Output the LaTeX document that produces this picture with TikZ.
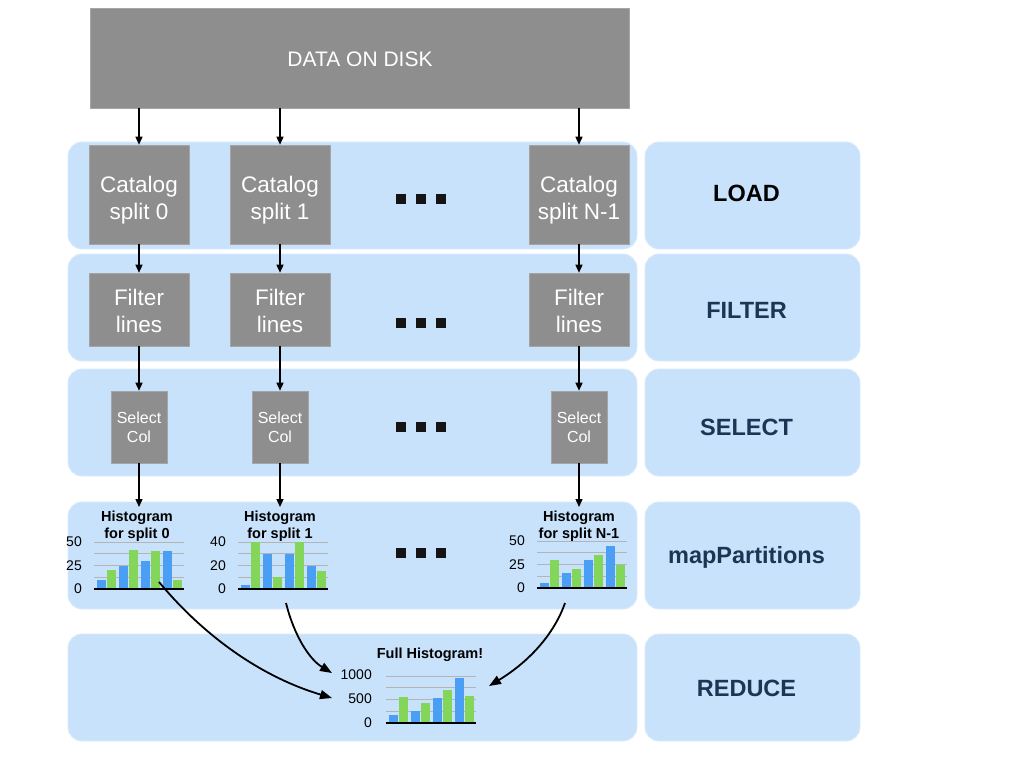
\documentclass[tikz,border=0pt]{standalone}
\usepackage{fontspec}
\setmainfont{Liberation Sans}
\usetikzlibrary{arrows.meta}
\definecolor{panelblue}{HTML}{C8E2FB}
\definecolor{boxgray}{HTML}{8E8E8E}
\definecolor{barblue}{HTML}{4A9FF5}
\definecolor{bargreen}{HTML}{84D65A}
\definecolor{gridgray}{HTML}{B4B4B4}
\definecolor{navy}{HTML}{1B3553}
% #1 chart left x, #2 baseline y, #3 px per unit, #4 list of blue/green values
\newcommand\drawhist[4]{%
  \foreach \k in {1,...,4} \draw[gridline] (#1,#2-11.75*\k) -- ++(90,0);
  \foreach \b/\g [count=\i from 0] in {#4} {
    \fill[barblue] (#1+2.5+22*\i,#2) rectangle ++(9,-\b*#3);
    \fill[bargreen] (#1+12.5+22*\i,#2) rectangle ++(9,-\g*#3);
  }
  \draw[axisline] (#1,#2) -- ++(90,0);
}
\begin{document}
\begin{tikzpicture}[x=1pt,y=-1pt,
  panel/.style={fill=panelblue, draw=panelblue!70!white, line width=0.8pt, rounded corners=14pt, inner sep=0pt},
  labelbox/.style={panel, minimum width=215pt, minimum height=107pt},
  labeltext/.style={inner sep=0pt, text=navy, font=\fontsize{23.5}{27}\selectfont\bfseries},
  graybox/.style={fill=boxgray, draw=boxgray!80!white, line width=0.6pt, inner sep=0pt},
  boxtext/.style={text=white, align=center, inner sep=0pt, font=\fontsize{22.5}{27}\selectfont},
  seltext/.style={boxtext, font=\fontsize{16}{19}\selectfont},
  varr/.style={-{Triangle[length=8pt,width=7pt]}, line width=1.4pt, black},
  carr/.style={-{Triangle[length=12pt,width=9pt]}, line width=1.8pt, black},
  gridline/.style={gridgray, line width=1pt},
  axisline/.style={black, line width=1.4pt},
  htitle/.style={align=center, inner sep=0pt, font=\fontsize{14.5}{17}\selectfont\bfseries},
  axlab/.style={anchor=east, inner sep=0pt, font=\fontsize{14}{16}\selectfont},
  dot/.style={fill=black!92, draw=none}
]
\useasboundingbox (0,0) rectangle (1024,768);
\fill[white] (0,0) rectangle (1024,768);

% disk
\node[graybox, minimum width=539pt, minimum height=100pt] (disk) at (359.5,58) {};
\node[boxtext, font=\fontsize{21}{25}\selectfont] (diskt) at (360,59) {DATA ON DISK};

% row panels
\node[panel, minimum width=569pt, minimum height=107pt] (pload) at (352.5,195.5) {};
\node[panel, minimum width=569pt, minimum height=107pt] (pfilter) at (352.5,307.5) {};
\node[panel, minimum width=569pt, minimum height=107pt] (pselect) at (352.5,422.5) {};
\node[panel, minimum width=569pt, minimum height=107pt] (pmap) at (352.5,555.5) {};
\node[panel, minimum width=569pt, minimum height=107pt] (preduce) at (352.5,687.5) {};

% label boxes
\node[labelbox] (lload) at (752.5,195.5) {};
\node[labelbox] (lfilter) at (752.5,307.5) {};
\node[labelbox] (lselect) at (752.5,422.5) {};
\node[labelbox] (lmap) at (752.5,555.5) {};
\node[labelbox] (lreduce) at (752.5,687.5) {};
\node[labeltext, text=black] (lloadt) at (746.5,193) {LOAD};
\node[labeltext] (lfiltert) at (746.5,310) {FILTER};
\node[labeltext] (lselectt) at (746.5,427) {SELECT};
\node[labeltext] (lmapt) at (746.5,557.5) {mapPartitions};
\node[labeltext] (lreducet) at (746.5,688) {REDUCE};

% catalog boxes
\node[graybox, minimum width=100pt, minimum height=99pt] (c0) at (139,194.5) {};
\node[graybox, minimum width=100pt, minimum height=99pt] (c1) at (280,194.5) {};
\node[graybox, minimum width=100pt, minimum height=99pt] (c2) at (579,194.5) {};
\node[boxtext] (c0t) at (139,200) {Catalog\\split 0};
\node[boxtext] (c1t) at (280,200) {Catalog\\split 1};
\node[boxtext] (c2t) at (579,200) {Catalog\\split N-1};

% filter boxes
\node[graybox, minimum width=100pt, minimum height=73pt] (f0) at (139,309.5) {};
\node[graybox, minimum width=100pt, minimum height=73pt] (f1) at (280,309.5) {};
\node[graybox, minimum width=100pt, minimum height=73pt] (f2) at (579,309.5) {};
\node[boxtext] (f0t) at (139,311) {Filter\\lines};
\node[boxtext] (f1t) at (280,311) {Filter\\lines};
\node[boxtext] (f2t) at (579,311) {Filter\\lines};

% select boxes
\node[graybox, minimum width=56pt, minimum height=72pt] (s0) at (139,427) {};
\node[graybox, minimum width=56pt, minimum height=72pt] (s1) at (280,427) {};
\node[graybox, minimum width=56pt, minimum height=72pt] (s2) at (579,427) {};
\node[seltext] (s0t) at (139,427.5) {Select\\Col};
\node[seltext] (s1t) at (280,427.5) {Select\\Col};
\node[seltext] (s2t) at (579,427.5) {Select\\Col};

% dots
\foreach \yy in {199,323,427,553} {
  \foreach \xx in {401,421,441} \fill[dot] (\xx-4.8,\yy-4.8) rectangle (\xx+4.8,\yy+4.8);
}

% histograms
\drawhist{94}{589}{0.94}{10/20,25/42,30/40,40/10}
\drawhist{238}{589}{1.175}{3/40,30/10,30/40,20/15}
\drawhist{537}{588}{0.94}{5/30,16/20,30/35,45/25}
\drawhist{386}{723}{0.048}{170/540,250/420,520/690,940/560}

\node[htitle] (t0) at (137,526) {Histogram\\for split 0};
\node[htitle] (t1) at (280,526) {Histogram\\for split 1};
\node[htitle] (t2) at (579,526) {Histogram\\for split N-1};
\node[htitle] (tf) at (430,655) {Full Histogram!};

\node[axlab] (a00) at (82,542) {50};
\node[axlab] (a01) at (82,565.5) {25};
\node[axlab] (a02) at (82,589) {0};
\node[axlab] (a10) at (226,542) {40};
\node[axlab] (a11) at (226,565.5) {20};
\node[axlab] (a12) at (226,589) {0};
\node[axlab] (a20) at (525,541) {50};
\node[axlab] (a21) at (525,564.5) {25};
\node[axlab] (a22) at (525,588) {0};
\node[axlab] (af0) at (372,675) {1000};
\node[axlab] (af1) at (372,699) {500};
\node[axlab] (af2) at (372,723) {0};

% coordinates
\coordinate (h0top) at (139,507);
\coordinate (h1top) at (280,507);
\coordinate (h2top) at (579,507);
\coordinate (h0out) at (159,582);
\coordinate (h1out) at (286,603);
\coordinate (h2out) at (565,603);
\coordinate (in1) at (332,698);
\coordinate (in2) at (332,673);
\coordinate (in3) at (489,686);

% vertical arrows
\foreach \n in {c0,c1,c2} \draw[varr] (\n.north |- disk.south) -- (\n.north);
\draw[varr] (c0.south) -- (f0.north);
\draw[varr] (c1.south) -- (f1.north);
\draw[varr] (c2.south) -- (f2.north);
\draw[varr] (f0.south) -- (s0.north);
\draw[varr] (f1.south) -- (s1.north);
\draw[varr] (f2.south) -- (s2.north);
\draw[varr] (s0.south) -- (h0top);
\draw[varr] (s1.south) -- (h1top);
\draw[varr] (s2.south) -- (h2top);

% curved arrows
\draw[carr] (h0out) .. controls (206.5,639) and (264,677.7) .. (in1);
\draw[carr] (h1out) .. controls (294.3,636.3) and (309.7,659.6) .. (in2);
\draw[carr] (h2out) .. controls (554,634.5) and (528.6,662) .. (in3);
\end{tikzpicture}
\end{document}
